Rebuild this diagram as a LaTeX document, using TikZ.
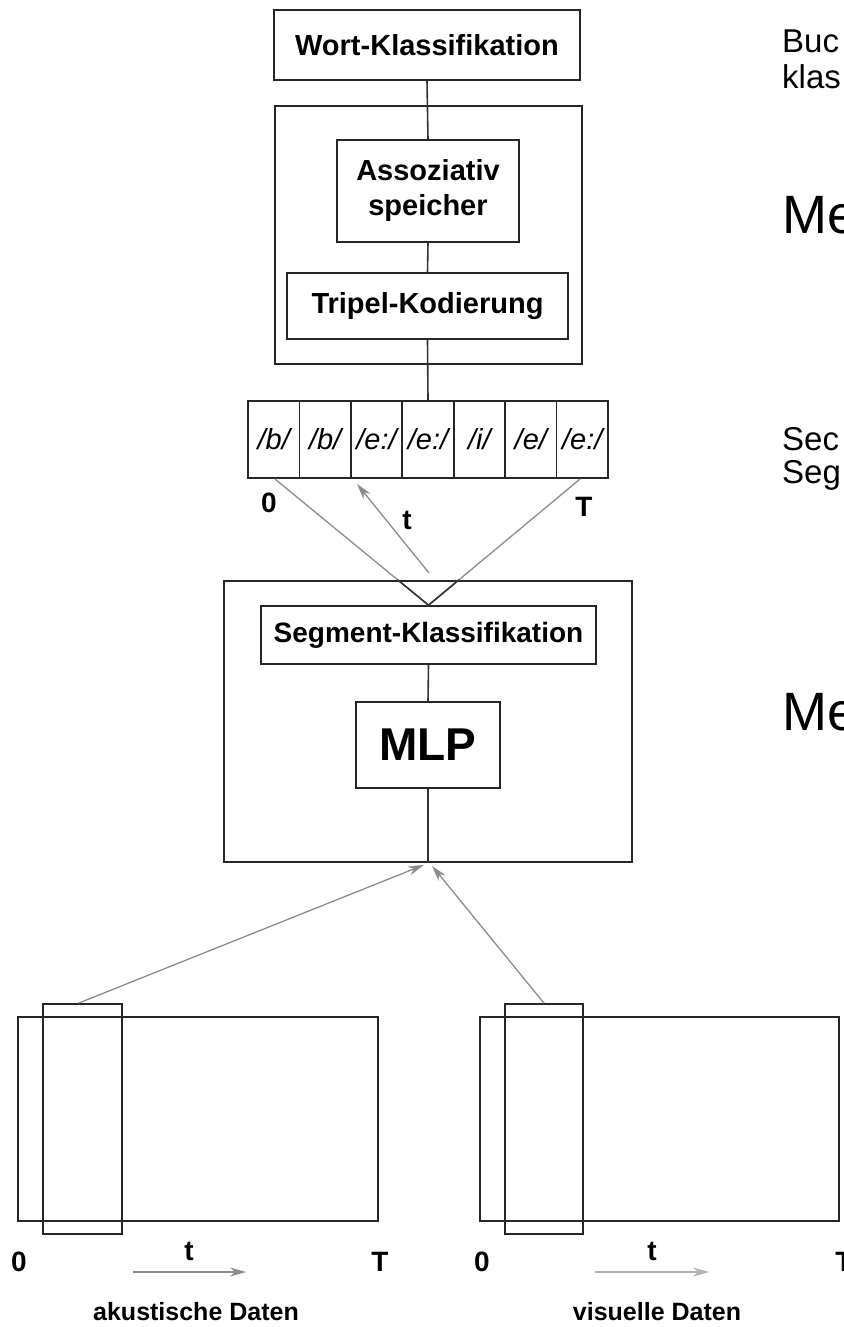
\documentclass[tikz,border=0pt]{standalone}
\usepackage{fontspec}
\setmainfont{Liberation Sans}
\usetikzlibrary{arrows.meta,calc}
\tikzset{
  bx/.style={draw=black!85, line width=1.7pt, inner sep=0pt, align=center,
    font=\bfseries\fontsize{29}{35}\selectfont},
  cn/.style={draw=black!80, line width=1.6pt},
  gl/.style={draw=black!45, line width=1.3pt},
  ga/.style={draw=black!45, line width=1.3pt, -{Stealth[length=16pt,width=9pt]}},
  gal/.style={draw=black!30, line width=1.3pt, -{Stealth[length=16pt,width=9pt]}},
  cell/.style={draw=black!85, line width=1.6pt, inner sep=0pt,
    minimum width=51.43pt, minimum height=77pt,
    font=\itshape\fontsize{29}{32}\selectfont},
  lbl/.style={inner sep=0pt, font=\bfseries\fontsize{28}{32}\selectfont},
  dat/.style={draw=black!85, line width=1.7pt, inner sep=0pt},
  rt/.style={anchor=west, inner sep=0pt, font=\fontsize{33}{36}\selectfont},
  rtb/.style={anchor=west, inner sep=0pt, font=\fontsize{54}{60}\selectfont},
}
\begin{document}
\begin{tikzpicture}[x=1pt,y=-1pt]
\useasboundingbox (0,0) rectangle (843,1327);
\begin{scope}
\clip (0,0) rectangle (843,1327);

% upper part
\node[bx, minimum width=306pt, minimum height=70pt] (wk) at (427,45) {Wort-Klassifikation};
\node[bx, minimum width=307pt, minimum height=258pt] (ub) at (428.5,235) {};
\node[bx, minimum width=182pt, minimum height=102pt] (as) at (428,191) {Assoziativ\\speicher};
\node[bx, minimum width=281pt, minimum height=66pt] (tk) at (427.5,306) {Tripel-Kodierung};

% phoneme strip
\node[cell] (c1) at (273.71,439.5) {/b/};
\node[cell] (c2) at (325.14,439.5) {/b/};
\node[cell] (c3) at (376.57,439.5) {/e:/};
\node[cell] (c4) at (428.00,439.5) {/e:/};
\node[cell] (c5) at (479.43,439.5) {/i/};
\node[cell] (c6) at (530.86,439.5) {/e/};
\node[cell] (c7) at (582.29,439.5) {/e:/};

\draw[cn] (wk.south) -- (as.north);
\draw[cn] (as.south) -- (tk.north);
\draw[cn] (tk.south) -- (c4.north);

\node[lbl] (l0) at (269,503) {0};
\node[lbl] (lT) at (584,507) {T};
\node[lbl] (lt) at (407,520) {t};

% lower part
\node[bx, minimum width=408pt, minimum height=281pt] (lb) at (428,721.5) {};
\node[bx, minimum width=335pt, minimum height=58pt, font=\bfseries\fontsize{28}{32}\selectfont] (sk) at (428.5,635) {Segment-Klassifikation};
\node[bx, minimum width=144pt, minimum height=86pt, font=\bfseries\fontsize{46}{50}\selectfont] (mlp) at (428,745) {MLP};
\draw[cn] (sk.south) -- (mlp.north);
\draw[cn] (mlp.south) -- (lb.south);

% V lines from strip to segment classification
\coordinate (v0) at ($(c1.south)+(1,0)$);
\coordinate (vT) at ($(c7.south)+(-2,0)$);
\draw[gl] (v0) -- (sk.north);
\draw[gl] (vT) -- (sk.north);
\draw[cn] ($(v0)!0.798!(sk.north)$) -- (sk.north) -- ($(vT)!0.798!(sk.north)$);
\coordinate (ttail) at (429,573);
\coordinate (thead) at (357,484);
\draw[ga] (ttail) -- (thead);

% data boxes
\node[dat, minimum width=360pt, minimum height=204pt] (ad) at (198,1119) {};
\node[dat, minimum width=79pt, minimum height=230pt] (aw) at (82.5,1119) {};
\node[dat, minimum width=359pt, minimum height=204pt] (vd) at (659.5,1119) {};
\node[dat, minimum width=78pt, minimum height=230pt] (vw) at (544,1119) {};

\coordinate (aend) at ($(lb.south)+(-4,2)$);
\coordinate (vend) at ($(lb.south)+(4,3)$);
\draw[ga] ($(aw.north)+(-4,0)$) -- (aend);
\draw[ga] (vw.north) -- (vend);

% axis labels
\node[lbl] (a0) at (19,1262) {0};
\node[lbl] (aT) at (380,1262) {T};
\node[lbl] (at) at (189,1251) {t};
\coordinate (aa1) at (133,1272);
\coordinate (aa2) at (246,1272);
\draw[ga] (aa1) -- (aa2);
\node[lbl, font=\bfseries\fontsize{25}{28}\selectfont] (ak) at (196,1312) {akustische Daten};

\node[lbl] (v0l) at (482,1262) {0};
\node[lbl] (vTl) at (844,1262) {T};
\node[lbl] (vt) at (652,1251) {t};
\coordinate (va1) at (595,1272);
\coordinate (va2) at (709,1272);
\draw[gal] (va1) -- (va2);
\node[lbl, font=\bfseries\fontsize{25}{28}\selectfont] (vi) at (657,1312) {visuelle Daten};

% right-side text (cut at the edge, as in the reference)
\node[rt] (r1) at (782,41) {Buc};
\node[rt] (r2) at (782,77) {klas};
\node[rtb] (r3) at (782,215) {Me};
\node[rt] (r4) at (782,439) {Sec};
\node[rt] (r5) at (782,475) {Seg};
\node[rtb] (r6) at (782,712) {Me};
\end{scope}
\end{tikzpicture}
\end{document}
